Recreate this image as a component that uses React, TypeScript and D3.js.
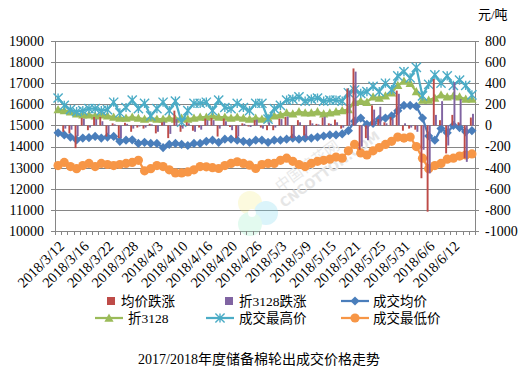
import React from 'react'
import * as d3 from 'd3'

const dates = [
  '2018/3/12','2018/3/13','2018/3/14','2018/3/15','2018/3/16','2018/3/19','2018/3/20','2018/3/21','2018/3/22','2018/3/23',
  '2018/3/26','2018/3/27','2018/3/28','2018/3/29','2018/3/30','2018/4/2','2018/4/3','2018/4/4','2018/4/8','2018/4/9',
  '2018/4/10','2018/4/11','2018/4/12','2018/4/13','2018/4/16','2018/4/17','2018/4/18','2018/4/19','2018/4/20','2018/4/23',
  '2018/4/24','2018/4/25','2018/4/26','2018/4/27','2018/4/28','2018/5/2','2018/5/3','2018/5/4','2018/5/7','2018/5/8',
  '2018/5/9','2018/5/10','2018/5/11','2018/5/14','2018/5/15','2018/5/16','2018/5/17','2018/5/18','2018/5/21','2018/5/22',
  '2018/5/23','2018/5/24','2018/5/25','2018/5/28','2018/5/29','2018/5/30','2018/5/31','2018/6/1','2018/6/4','2018/6/5',
  '2018/6/6','2018/6/7','2018/6/8','2018/6/11','2018/6/12','2018/6/13','2018/6/14','2018/6/15',
]

// 均价跌涨 (right axis)
const avgChange = [
  0, -60, -75, -215, 70, -45, 80, 80, -105, 20,
  -120, 25, -60, -20, -30, 15, -75, 30, -120, 140,
  -60, 30, -50, -20, 65, 70, -105, 65, -15, -120,
  20, -10, 50, -20, -45, -45, 65, 80, -120, 50,
  -95, 50, 15, 75, 20, 55, -30, 350, 540, -230,
  -120, 190, 60, 30, 80, 330, -50, -30, -40, -500,
  -817, 440, 50, -265, 100, 30, -310, 75,
]

// 折3128跌涨 (right axis)
const z3128Change = [
  0, -30, -40, -100, 65, -20, 60, 40, -80, 10,
  -120, 15, -30, -10, -20, 10, -60, 35, -80, 60,
  -30, 20, -60, -40, 50, 50, -30, 40, -45, -105,
  15, -15, 55, -30, 30, -20, 60, 85, -120, 30,
  -120, 20, 10, 82, 15, 30, -20, 330, 510, -200,
  -140, 150, 177, 20, 60, 300, 20, -20, -60, -230,
  -454, 100, 230, -190, 410, 250, -345, 110,
]

// 成交均价
const avgPrice = [
  14650, 14550, 14450, 14320, 14400, 14420, 14480, 14400, 14450, 14480,
  14250, 14300, 14320, 14150, 14200, 14150, 14150, 13950, 14100, 14150,
  14100, 14050, 14150, 14150, 14250, 14300, 14200, 14350, 14350, 14300,
  14250, 14200, 14300, 14300, 14200, 14300, 14300, 14350, 14400, 14350,
  14400, 14400, 14450, 14500, 14550, 14550, 14600, 14750, 15200, 15350,
  15050, 15100, 15300, 15350, 15450, 15700, 15950, 15950, 15900, 15350,
  14500, 14300, 14850, 14650, 15000, 14900, 14700, 14750,
]

// 折3128
const z3128Price = [
  15750, 15700, 15650, 15550, 15500, 15500, 15450, 15500, 15450, 15400,
  15350, 15350, 15400, 15350, 15300, 15350, 15300, 15300, 15350, 15300,
  15350, 15300, 15350, 15400, 15400, 15450, 15400, 15400, 15350, 15400,
  15350, 15300, 15350, 15300, 15350, 15450, 15500, 15600, 15550, 15650,
  15600, 15600, 15650, 15550, 15600, 15650, 15700, 15750, 16100, 16150,
  16100, 16350, 16300, 16400, 16550, 16900, 17100, 17000, 16600, 16200,
  16200, 16300, 16450, 16350, 16400, 16350, 16250, 16250,
]

// 成交最高价
const highPrice = [
  16300, 15950, 15750, 15650, 15700, 15800, 15800, 15700, 15750, 16100,
  15600, 15850, 16200, 15800, 16050, 15450, 15800, 16100, 15700, 16150,
  15150, 15700, 16050, 16050, 16100, 15700, 16200, 15850, 15800, 16050,
  15850, 15700, 16050, 16050, 15300, 15800, 15950, 16200, 16250, 16350,
  16150, 16250, 16300, 16150, 16200, 16200, 16150, 16550, 16680, 16520,
  16600, 16850, 16600, 17000, 16700, 17350, 17550, 17250, 17750, 16400,
  16950, 17400, 17000, 17350, 16900, 17150, 16900, 16450,
]

// 成交最低价
const lowPrice = [
  13100, 13250, 13050, 12950, 13100, 13200, 13050, 13200, 13150, 13100,
  13150, 13200, 13250, 13350, 12850, 12950, 13100, 13050, 12900, 12750,
  12750, 12800, 12900, 13050, 13040, 13000, 12960, 13100, 13200, 13280,
  13200, 13120, 12960, 13150, 13200, 13200, 13350, 13450, 13300, 13150,
  13050, 13200, 13300, 13350, 13400, 13500, 13450, 13800, 14100, 13700,
  13600, 13800, 13950, 14100, 14250, 14450, 14400, 14450, 14000, 13450,
  12950, 13100, 13200, 13400, 13450, 13550, 13600, 13650,
]

const leftTicks = [10000, 11000, 12000, 13000, 14000, 15000, 16000, 17000, 18000, 19000]
const rightTicks = [-1000, -800, -600, -400, -200, 0, 200, 400, 600, 800]

const COLORS = {
  red: '#BE4B48',
  purple: '#8064A2',
  blue: '#4A7EBB',
  green: '#9BBB59',
  teal: '#4BACC6',
  orange: '#F79646',
  grid: '#868686',
}

const SERIF = 'Liberation Serif, DejaVu Serif, Noto Sans CJK SC, serif'

const markerPath = (type: string, s: number) => {
  if (type === 'diamond') return `M0,${-s}L${s},0L0,${s}L${-s},0Z`
  if (type === 'triangle') return `M0,${-s}L${s},${s * 0.8}L${-s},${s * 0.8}Z`
  if (type === 'star') return `M${-s},${-s}L${s},${s}M${-s},${s}L${s},${-s}M0,${-s}L0,${s}`
  return ''
}

const Marker = ({ type, x, y, color }: { type: string; x: number; y: number; color: string }) => {
  if (type === 'circle') return <circle cx={x} cy={y} r={4.6} fill={color} />
  if (type === 'star')
    return <path d={markerPath('star', 4.6)} transform={`translate(${x},${y})`} fill="none" stroke={color} strokeWidth={1.4} />
  return <path d={markerPath(type, 4.6)} transform={`translate(${x},${y})`} fill={color} />
}

const App = () => {
  const left = 55
  const right = 475
  const top = 41
  const bottom = 231

  const x = d3.scaleBand<string>().domain(dates).range([left, right]).paddingInner(0).paddingOuter(0)
  const xSub = d3.scaleBand<string>().domain(['red', 'purple']).range([0, x.bandwidth()]).paddingInner(0.1).paddingOuter(0.5)
  const yL = d3.scaleLinear().domain([10000, 19000]).range([bottom, top])
  const yR = d3.scaleLinear().domain([-1000, 800]).range([bottom, top])

  const cx = (d: string) => (x(d) as number) + x.bandwidth() / 2
  const crisp = (v: number) => Math.round(v) + 0.5

  const lineSeries = [
    { key: 'blue', values: avgPrice, color: COLORS.blue, marker: 'diamond' },
    { key: 'green', values: z3128Price, color: COLORS.green, marker: 'triangle' },
    { key: 'teal', values: highPrice, color: COLORS.teal, marker: 'star' },
    { key: 'orange', values: lowPrice, color: COLORS.orange, marker: 'circle' },
  ]

  const barSeries = [
    { key: 'red', values: avgChange, color: COLORS.red },
    { key: 'purple', values: z3128Change, color: COLORS.purple },
  ]

  const lineGen = d3.line<number>()
    .x((_, i) => cx(dates[i]))
    .y((v) => yL(v))

  return (
    <svg width={521} height={387} style={{ display: 'block', position: 'absolute', left: 0, top: 0, background: '#fff' }}>
      <rect x={0} y={0} width={521} height={387} fill="#fff" />

      {/* gridlines */}
      {leftTicks.map((t) => (
        <line key={t} x1={left} x2={right} y1={crisp(yL(t))} y2={crisp(yL(t))} stroke={COLORS.grid} strokeWidth={1} />
      ))}
      <line x1={crisp(left)} x2={crisp(left)} y1={top} y2={bottom} stroke={COLORS.grid} />
      <line x1={crisp(right)} x2={crisp(right)} y1={top} y2={bottom} stroke={COLORS.grid} />

      {/* faint site watermark */}
      <g opacity={0.28}>
        <circle cx={250} cy={203} r={12} fill="#f6f08a" />
        <circle cx={266} cy={213} r={12} fill="#7fd8f0" />
        <circle cx={250} cy={224} r={12} fill="#9cf0c8" />
        <circle cx={252} cy={213} r={4} fill="#fff" />
      </g>
      <text transform="translate(284,208) rotate(-36)" fontFamily="DejaVu Sans, sans-serif" fontSize={13} fontWeight="bold" fill="#e6e6e6">
        CNCOTTON.COM
      </text>
      <text transform="translate(280,192) rotate(-36)" fontFamily="Noto Sans CJK SC, sans-serif" fontSize={15} fill="#e9e9e9">
        中国棉花网
      </text>

      {/* axis ticks */}
      {leftTicks.map((t) => (
        <line key={'lt' + t} x1={left - 4} x2={left} y1={crisp(yL(t))} y2={crisp(yL(t))} stroke={COLORS.grid} />
      ))}
      {rightTicks.map((t) => (
        <line key={'rt' + t} x1={right} x2={right + 4} y1={crisp(yR(t))} y2={crisp(yR(t))} stroke={COLORS.grid} />
      ))}
      {dates.concat(['end']).map((d, i) => {
        const xx = i < dates.length ? (x(d) as number) : right
        return <line key={'xt' + i} x1={crisp(xx)} x2={crisp(xx)} y1={bottom} y2={bottom + 4} stroke={COLORS.grid} />
      })}

      {/* tick labels */}
      {leftTicks.map((t) => (
        <text key={'ll' + t} x={44} y={yL(t)} dy="0.35em" textAnchor="end" fontFamily={SERIF} fontSize={14} fill="#000">
          {t}
        </text>
      ))}
      {rightTicks.map((t) => (
        <text key={'rl' + t} x={485} y={yR(t)} dy="0.35em" textAnchor="start" fontFamily={SERIF} fontSize={14} fill="#000">
          {t}
        </text>
      ))}
      {dates.map((d, i) =>
        i % 4 === 0 ? (
          <text
            key={'xl' + d}
            transform={`translate(${cx(d) + 7},${247}) rotate(-45)`}
            textAnchor="end"
            fontFamily={SERIF}
            fontSize={14.5}
            fill="#000"
          >
            {d}
          </text>
        ) : null
      )}
      <text x={478} y={19} fontFamily={SERIF} fontSize={13} fill="#000">元/吨</text>

      {/* lines */}
      {lineSeries.map((s) => (
        <g key={s.key}>
          <path d={lineGen(s.values) as string} fill="none" stroke={s.color} strokeWidth={2.25} strokeLinejoin="round" />
          {s.values.map((v, i) => (
            <Marker key={i} type={s.marker} x={cx(dates[i])} y={yL(v)} color={s.color} />
          ))}
        </g>
      ))}

      {/* bars on secondary axis */}
      {barSeries.map((s) => (
        <g key={s.key}>
          {s.values.map((v, i) => {
            const bx = (x(dates[i]) as number) + (xSub(s.key) as number)
            const y0 = yR(0)
            const y1 = yR(v)
            return (
              <rect key={i} x={bx} y={Math.min(y0, y1)} width={xSub.bandwidth()} height={Math.abs(y1 - y0)} fill={s.color} />
            )
          })}
        </g>
      ))}

      {/* legend */}
      <g fontFamily={SERIF} fontSize={13.5} fill="#000">
        <rect x={107} y={297} width={8} height={8} fill={COLORS.red} />
        <text x={121} y={306}>均价跌涨</text>
        <rect x={225} y={297} width={8} height={8} fill={COLORS.purple} />
        <text x={239} y={306}>折3128跌涨</text>
        <line x1={341} x2={369} y1={301} y2={301} stroke={COLORS.blue} strokeWidth={2.25} />
        <Marker type="diamond" x={355} y={301} color={COLORS.blue} />
        <text x={373} y={306}>成交均价</text>

        <line x1={95} x2={123} y1={318} y2={318} stroke={COLORS.green} strokeWidth={2.25} />
        <Marker type="triangle" x={109} y={318} color={COLORS.green} />
        <text x={128} y={323}>折3128</text>
        <line x1={206} x2={234} y1={318} y2={318} stroke={COLORS.teal} strokeWidth={2.25} />
        <Marker type="star" x={220} y={318} color={COLORS.teal} />
        <text x={239} y={323}>成交最高价</text>
        <line x1={341} x2={369} y1={318} y2={318} stroke={COLORS.orange} strokeWidth={2.25} />
        <Marker type="circle" x={355} y={318} color={COLORS.orange} />
        <text x={373} y={323}>成交最低价</text>
      </g>

      {/* title */}
      <text x={259} y={364} textAnchor="middle" fontFamily={SERIF} fontSize={14} fill="#000">
        2017/2018年度储备棉轮出成交价格走势
      </text>
    </svg>
  )
}

export default App
